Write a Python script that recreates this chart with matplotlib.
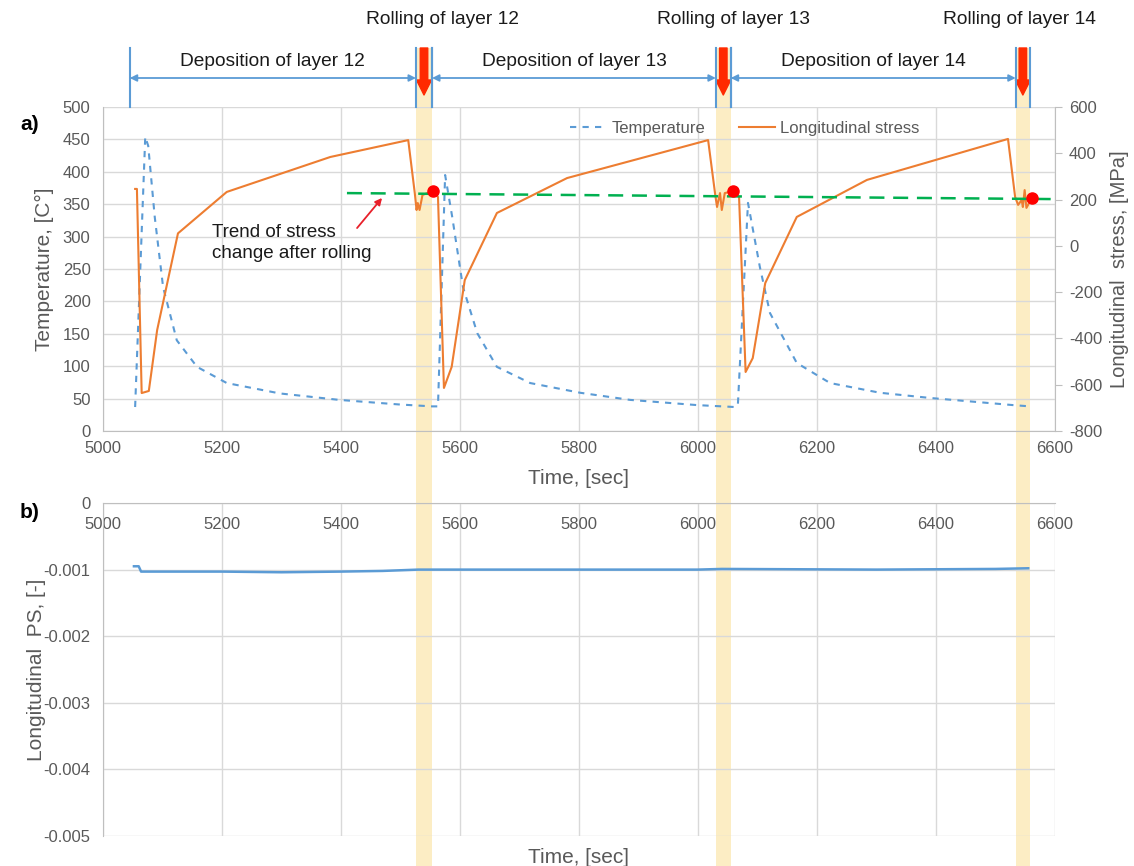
import matplotlib
matplotlib.use('Agg')
import matplotlib.pyplot as plt
from matplotlib.patches import Rectangle, FancyArrowPatch
from matplotlib.lines import Line2D
from matplotlib.transforms import blended_transform_factory
import numpy as np

plt.rcParams['font.family'] = ['Liberation Sans', 'DejaVu Sans']
plt.rcParams['axes.unicode_minus'] = False

# temperature, [C]
t_temp = [5054, 5071, 5076, 5087, 5101, 5124, 5158, 5208, 5297, 5397, 5497, 5553,
          5563, 5575, 5587, 5605, 5629, 5662, 5718, 5802, 5886, 5998, 6062,
          6067, 6084, 6104, 6121, 6166, 6222, 6306, 6390, 6529, 6558]
temp = [37, 454, 440, 330, 222, 140, 99, 74, 58, 48, 41, 38,
        38, 395, 330, 222, 151, 99, 74, 59, 48, 40, 37,
        40, 352, 253, 182, 105, 74, 59, 51, 40, 38]

# longitudinal stress, [MPa]
t_stress = [5054, 5057, 5065, 5077, 5091, 5126, 5208, 5382, 5513,
            5524, 5527, 5529, 5532, 5537, 5555, 5563,
            5573, 5586, 5608, 5662, 5780, 6017,
            6029, 6032, 6037, 6040, 6045, 6059, 6069,
            6080, 6092, 6113, 6166, 6284, 6521,
            6533, 6538, 6544, 6546, 6549, 6552, 6561]
stress = [246, 246, -636, -627, -364, 54, 233, 384, 457,
          228, 155, 185, 155, 220, 237, 211,
          -614, -523, -148, 142, 293, 457,
          220, 168, 228, 155, 228, 237, 211,
          -545, -485, -161, 125, 285, 462,
          211, 177, 198, 168, 241, 164, 207]

# stress after rolling and its trend
t_roll = [5555, 6059, 6561]
s_roll = [237, 237, 207]
t_trend = [5410, 6600]
s_trend = [228, 202]

# longitudinal plastic strain
t_ps = [5052, 5060, 5064, 5200, 5300, 5400, 5470, 5530, 5560, 6000, 6040, 6300, 6500, 6555]
ps = [-0.00095, -0.00095, -0.00103, -0.00103, -0.00104, -0.00103, -0.00102, -0.00100,
      -0.00100, -0.00100, -0.00099, -0.00100, -0.00099, -0.00098]

# rolling windows and deposition spans
roll_start = [5526, 6030, 6534]
roll_end = [5553, 6055, 6558]
dep_start = [5045, 5553, 6055]
roll_label_x = [5570, 6060, 6541]
layers = [12, 13, 14]

blue = '#5B9BD5'
orange = '#ED7D31'
gray = '#595959'
grid_c = '#D9D9D9'
axis_c = '#BFBFBF'

fig = plt.figure(figsize=(11.34, 8.66), dpi=100)
ax1 = fig.add_axes([103 / 1134, 1 - 431 / 866, 952 / 1134, 324 / 866])
ax2 = ax1.twinx()
ax3 = fig.add_axes([103 / 1134, 1 - 836 / 866, 952 / 1134, 333 / 866])
for a in (ax1, ax2, ax3):
    a.set_facecolor('none')

# ---- a) ----
ax1.set_xlim(5000, 6600)
ax1.set_ylim(0, 500)
ax1.set_xticks(np.arange(5000, 6601, 200))
ax1.set_yticks(np.arange(0, 501, 50))
ax1.grid(True, color=grid_c, lw=1)
ax1.set_axisbelow(True)
ax1.tick_params(length=0, labelsize=12, labelcolor=gray)
ax1.tick_params(axis='y', pad=9)
ax1.tick_params(axis='x', pad=7)
for s in ('top', 'right'):
    ax1.spines[s].set_visible(False)
for s in ('left', 'bottom'):
    ax1.spines[s].set_color(axis_c)
ax1.set_ylabel('Temperature, [C°]', fontsize=15, color=gray)
ax1.yaxis.set_label_coords(-0.051, 0.5)
ax1.set_xlabel('Time, [sec]', fontsize=15, color=gray)
ax1.xaxis.set_label_coords(0.5, -0.117)

ln_t, = ax1.plot(t_temp, temp, color=blue, lw=1.5, ls=(0, (3, 3)), label='Temperature')

ax2.set_ylim(-800, 600)
ax2.set_yticks(np.arange(-800, 601, 200))
ax2.tick_params(axis='y', length=5, color=axis_c, labelsize=12, labelcolor=gray, pad=5)
for s in ('top', 'left', 'bottom'):
    ax2.spines[s].set_visible(False)
ax2.spines['right'].set_color(axis_c)
ax2.set_ylabel('Longitudinal  stress, [MPa]', fontsize=14.5, color=gray, rotation=90)
ax2.yaxis.set_label_coords(1.058, 0.5)

ln_s, = ax2.plot(t_stress, stress, color=orange, lw=1.5, label='Longitudinal stress')
ax2.plot(t_trend, s_trend, color='#00B050', lw=1.8, ls=(0, (6, 3.5)), zorder=4)
ax2.plot(t_roll, s_roll, 'o', color='#FF0000', ms=8, zorder=5)

ax2.annotate('', xy=(5469, 207), xytext=(5427, 77),
             arrowprops=dict(arrowstyle='-|>', color='#E8202A', lw=1.3,
                             mutation_scale=10, shrinkA=0, shrinkB=0))
ax2.text(5183, 12, 'Trend of stress\nchange after rolling', ha='left', va='center',
         fontsize=13.5, color='#1a1a1a', linespacing=1.25)

ax2.legend([ln_t, ln_s], ['Temperature', 'Longitudinal stress'], loc='center',
           bbox_to_anchor=(0.674, 0.935), ncol=2, frameon=False, fontsize=12,
           labelcolor=gray, handlelength=2.2, handletextpad=0.3, columnspacing=2)

fig.text(20 / 1134, 1 - 125 / 866, 'a)', fontsize=15, fontweight='bold', va='center')
fig.text(20 / 1134, 1 - 513 / 866, 'b)', fontsize=15, fontweight='bold', va='center')

# ---- b) ----
ax3.set_xlim(5000, 6600)
ax3.set_ylim(-0.005, 0)
ax3.set_xticks(np.arange(5000, 6601, 200))
yv = [0, -0.001, -0.002, -0.003, -0.004, -0.005]
ax3.set_yticks(yv, [f'{v:g}' for v in yv])
ax3.grid(True, color=grid_c, lw=1)
ax3.set_axisbelow(True)
ax3.spines['bottom'].set_position(('data', 0))
for s in ('top', 'right'):
    ax3.spines[s].set_visible(False)
for s in ('left', 'bottom'):
    ax3.spines[s].set_color(axis_c)
ax3.tick_params(length=0, labelsize=12, labelcolor=gray)
ax3.tick_params(axis='y', pad=9)
ax3.tick_params(axis='x', pad=10)
ax3.set_ylabel('Longitudinal  PS, [-]', fontsize=15, color=gray)
ax3.yaxis.set_label_coords(-0.06, 0.5)
ax3.set_xlabel('Time, [sec]', fontsize=15, color=gray)
ax3.xaxis.set_label_coords(0.5, -0.036)
ax3.plot(t_ps, ps, color=blue, lw=1.8)

# ---- rolling bands and annotation above ----
trans = blended_transform_factory(ax1.transData, fig.transFigure)
y_top = 1 - 48 / 866
y_ax = 1 - 107 / 866
y_arr = 1 - 78 / 866
for s, e, d, lx, n in zip(roll_start, roll_end, dep_start, roll_label_x, layers):
    fig.add_artist(Rectangle((s, 0), e - s, y_top, transform=trans,
                             facecolor='#FCEDC4', edgecolor='none', zorder=-1))
    for x in (s, e):
        fig.add_artist(Line2D([x, x], [y_ax, y_top], transform=trans, color=blue, lw=1.5))
    fig.add_artist(Line2D([d, d], [y_ax, y_top], transform=trans, color=blue, lw=1.5))
    fig.add_artist(FancyArrowPatch((d, y_arr), (s, y_arr), transform=trans,
                                   arrowstyle='<|-|>', mutation_scale=10, color=blue,
                                   lw=1.3, shrinkA=0, shrinkB=0))
    fig.text((d + s) / 2, 1 - 61 / 866, f'Deposition of layer {n}', transform=trans,
             ha='center', va='center', fontsize=13.8, color='#1a1a1a')
    fig.add_artist(FancyArrowPatch(((s + e) / 2, y_top), ((s + e) / 2, 1 - 95 / 866),
                                   transform=trans,
                                   arrowstyle='simple,head_length=0.9,head_width=0.9,tail_width=0.45',
                                   mutation_scale=12, color='#FF2A00', shrinkA=0, shrinkB=0))
    fig.text(lx, 1 - 20 / 866, f'Rolling of layer {n}', transform=trans,
             ha='center', va='center', fontsize=13.8, color='#1a1a1a')

fig.savefig('out.png', dpi=100)
